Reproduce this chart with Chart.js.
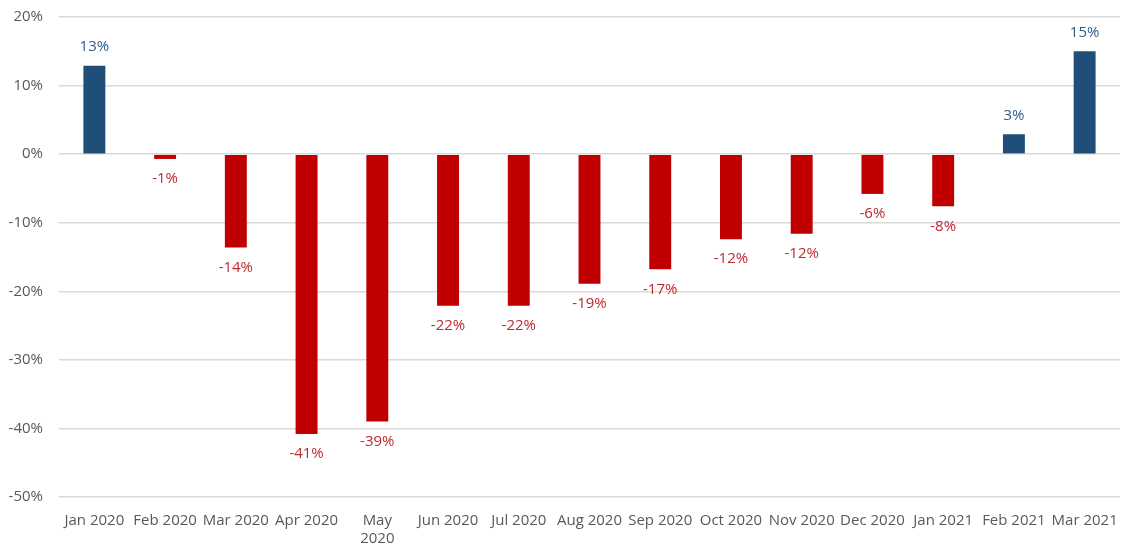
<!DOCTYPE html>
<html>
<head>
<meta charset="utf-8">
<script src="https://cdn.jsdelivr.net/npm/chart.js@4/dist/chart.umd.min.js"></script>
<style>
html,body{margin:0;padding:0;background:#fff;}
#wrap{width:1123px;height:552px;position:relative;}
</style>
</head>
<body>
<div id="wrap"><canvas id="c" width="1123" height="552"></canvas></div>
<script>
const categories = ['Jan 2020','Feb 2020','Mar 2020','Apr 2020',['May','2020'],'Jun 2020','Jul 2020','Aug 2020','Sep 2020','Oct 2020','Nov 2020','Dec 2020','Jan 2021','Feb 2021','Mar 2021'];
const values = [12.9, -0.7, -13.6, -40.8, -39.0, -22.1, -22.1, -18.9, -16.8, -12.4, -11.6, -5.8, -7.6, 2.9, 15.0];
const yTicks = [20, 10, 0, -10, -20, -30, -40, -50];

const BLUE = '#1F4E79', RED = '#C00000';
const LBLUE = '#2E5C8A', LRED = '#C0282D';
const FONT = '"Open Sans", "Liberation Sans", sans-serif';

const labelPlugin = {
  id: 'valLabels',
  afterDatasetsDraw(chart) {
    const ctx = chart.ctx;
    const meta = chart.getDatasetMeta(0);
    ctx.save();
    ctx.font = '15px ' + FONT;
    ctx.textAlign = 'center';
    ctx.textBaseline = 'middle';
    meta.data.forEach((bar, i) => {
      const v = values[i];
      const txt = Math.round(v) + '%';
      if (v >= 0) {
        ctx.fillStyle = LBLUE;
        ctx.fillText(txt, bar.x, bar.y - 19);
      } else {
        ctx.fillStyle = LRED;
        ctx.fillText(txt, bar.x, bar.y + 20);
      }
    });
    ctx.restore();
  }
};

new Chart(document.getElementById('c'), {
  type: 'bar',
  data: {
    labels: categories,
    datasets: [{
      data: values,
      backgroundColor: values.map(v => v >= 0 ? BLUE : RED),
      barPercentage: 0.31,
      categoryPercentage: 1.0
    }]
  },
  options: {
    responsive: false,
    animation: false,
    layout: { padding: { top: 17, right: 3, left: 0, bottom: 0 } },
    plugins: { legend: { display: false }, tooltip: { enabled: false } },
    scales: {
      x: {
        afterFit(scale) { scale.height = 55; scale.paddingLeft = 0; scale.paddingRight = 0; },
        grid: { display: false, drawTicks: false },
        border: { display: false },
        ticks: {
          color: '#595959',
          font: { size: 15, family: FONT },
          maxRotation: 0, autoSkip: false, padding: 15
        }
      },
      y: {
        min: -50, max: 20,
        afterBuildTicks(scale) { scale.ticks = yTicks.map(v => ({ value: v })); },
        afterFit(scale) { scale.width = 59; scale.paddingTop = 0; scale.paddingBottom = 0; },
        grid: { color: '#D9D9D9', lineWidth: 1.5, drawTicks: false },
        border: { display: false },
        ticks: {
          color: '#595959',
          font: { size: 15, family: FONT },
          padding: 16,
          callback: v => v + '%'
        }
      }
    }
  },
  plugins: [labelPlugin]
});
</script>
</body>
</html>
